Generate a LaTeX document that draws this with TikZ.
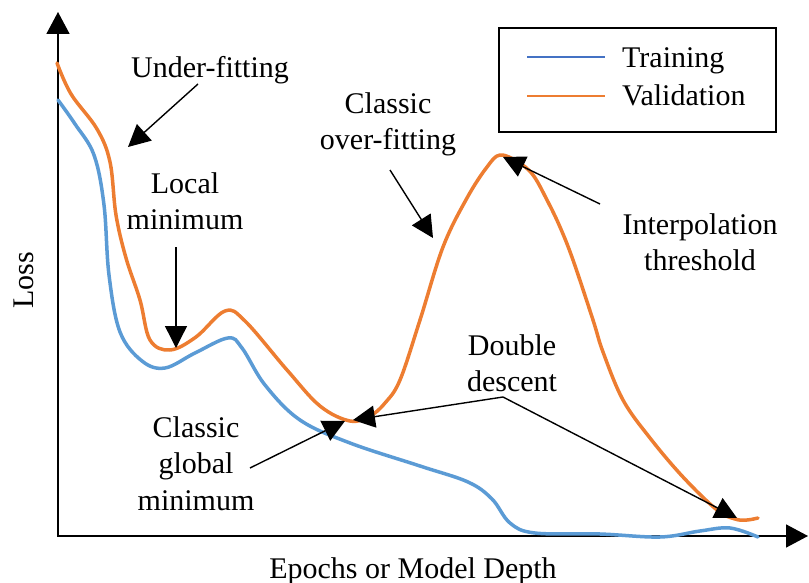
\documentclass[tikz,border=0pt]{standalone}
\usepackage{fontspec}
\setmainfont{Liberation Serif}
\usetikzlibrary{arrows.meta}
\definecolor{train}{RGB}{91,155,213}
\definecolor{valid}{RGB}{237,125,49}
\definecolor{trainkey}{RGB}{68,114,196}

\begin{document}
\begin{tikzpicture}[x=1pt, y=-1pt,
    lbl/.style={align=center, inner sep=0pt, anchor=north,
                font=\fontsize{30}{36.5}\selectfont},
    keytext/.style={inner sep=0pt, anchor=base west,
                    font=\fontsize{30}{36.5}\selectfont},
    axis/.style={{Triangle[length=22pt,width=23pt]}-{Triangle[length=22pt,width=23pt]},
                 line width=1.6pt},
    pointer/.style={-{Triangle[length=22pt,width=22pt]}, line width=1.4pt},
    traincurve/.style={train, line width=3.5pt, line cap=round, line join=round},
    validcurve/.style={valid, line width=3.5pt, line cap=round, line join=round},
]
\useasboundingbox (0,0) rectangle (809,583);

% ==========================================================
% Axes
% ==========================================================
\coordinate (ytip)   at (58,12);
\coordinate (origin) at (58,536);
\coordinate (xtip)   at (808,536);
\draw[axis] (ytip) -- (origin) -- (xtip);

\node[lbl, anchor=base, rotate=90] (ylab) at (33,280) {Loss};
\node[lbl] (xlab) at (413,557) {Epochs or Model Depth};

% ==========================================================
% Curves
% ==========================================================
\draw[traincurve] plot[smooth, tension=0.6] coordinates {
    (58,100) (75,124) (94,155) (104,205) (109,275) (120,332)
    (142,361) (165,368) (195,353) (228,338) (242,348) (265,385)
    (300,420) (350,443) (420,466) (468,482) (492,499) (510,523)
    (535,533) (600,534) (660,537) (700,531) (730,528) (758,537)};

\draw[validcurve] plot[smooth, tension=0.6] coordinates {
    (57,63) (71,94) (97,129) (110,162) (116,215) (126,258) (140,300)
    (150,340) (170,350) (196,337) (225,311) (245,321) (287,370)
    (320,406) (350,421) (370,416) (385,403) (400,380) (420,320)
    (443,247) (467,198) (487,167) (500,155) (518,162) (533,175)
    (547,200) (560,227) (573,260) (593,320) (603,352) (623,400)
    (650,438) (683,477) (717,510) (735,519) (747,520) (758,518)};

% ==========================================================
% Legend
% ==========================================================
\node[draw, line width=1.5pt, minimum width=277pt, minimum height=104pt,
      inner sep=0pt] (legend) at (637.5,80) {};
\coordinate (keyTa) at (527,57);  \coordinate (keyTb) at (605,57);
\coordinate (keyVa) at (527,96);  \coordinate (keyVb) at (605,96);
\draw[trainkey, line width=2pt] (keyTa) -- (keyTb);
\draw[valid, line width=2pt] (keyVa) -- (keyVb);
\node[keytext] (keyT) at (622,68)  {Training};
\node[keytext] (keyV) at (622,106) {Validation};

% ==========================================================
% Annotations
% ==========================================================
\node[lbl] (under) at (210,56) {Under-fitting};
\coordinate (underTail) at (198,84);
\coordinate (underTip)  at (128,147);
\draw[pointer] (underTail) -- (underTip);

\node[lbl] (localmin) at (185,172) {Local\\ minimum};
\coordinate (localTail) at (176,247);
\coordinate (localTip)  at (176,348);
\draw[pointer] (localTail) -- (localTip);

\node[lbl] (overfit) at (388,92) {Classic\\ over-fitting};
\coordinate (overTail) at (390,170);
\coordinate (overTip)  at (433,238);
\draw[pointer] (overTail) -- (overTip);

\node[lbl] (interp) at (700,213) {Interpolation\\ threshold};
\coordinate (interpTail) at (600,204);
\coordinate (interpTip)  at (503,157);
\draw[pointer] (interpTail) -- (interpTip);

\node[lbl] (double) at (512,334) {Double\\ descent};
\coordinate (ddJoin)  at (503,397);
\coordinate (ddLeft)  at (353,420);
\coordinate (ddRight) at (737,518);
\draw[pointer] (ddJoin) -- (ddLeft);
\draw[pointer] (ddJoin) -- (ddRight);

\node[lbl] (globalmin) at (196,416) {Classic\\ global\\ minimum};
\coordinate (globalTail) at (250,468);
\coordinate (globalTip)  at (345,421);
\draw[pointer] (globalTail) -- (globalTip);

\end{tikzpicture}
\end{document}
